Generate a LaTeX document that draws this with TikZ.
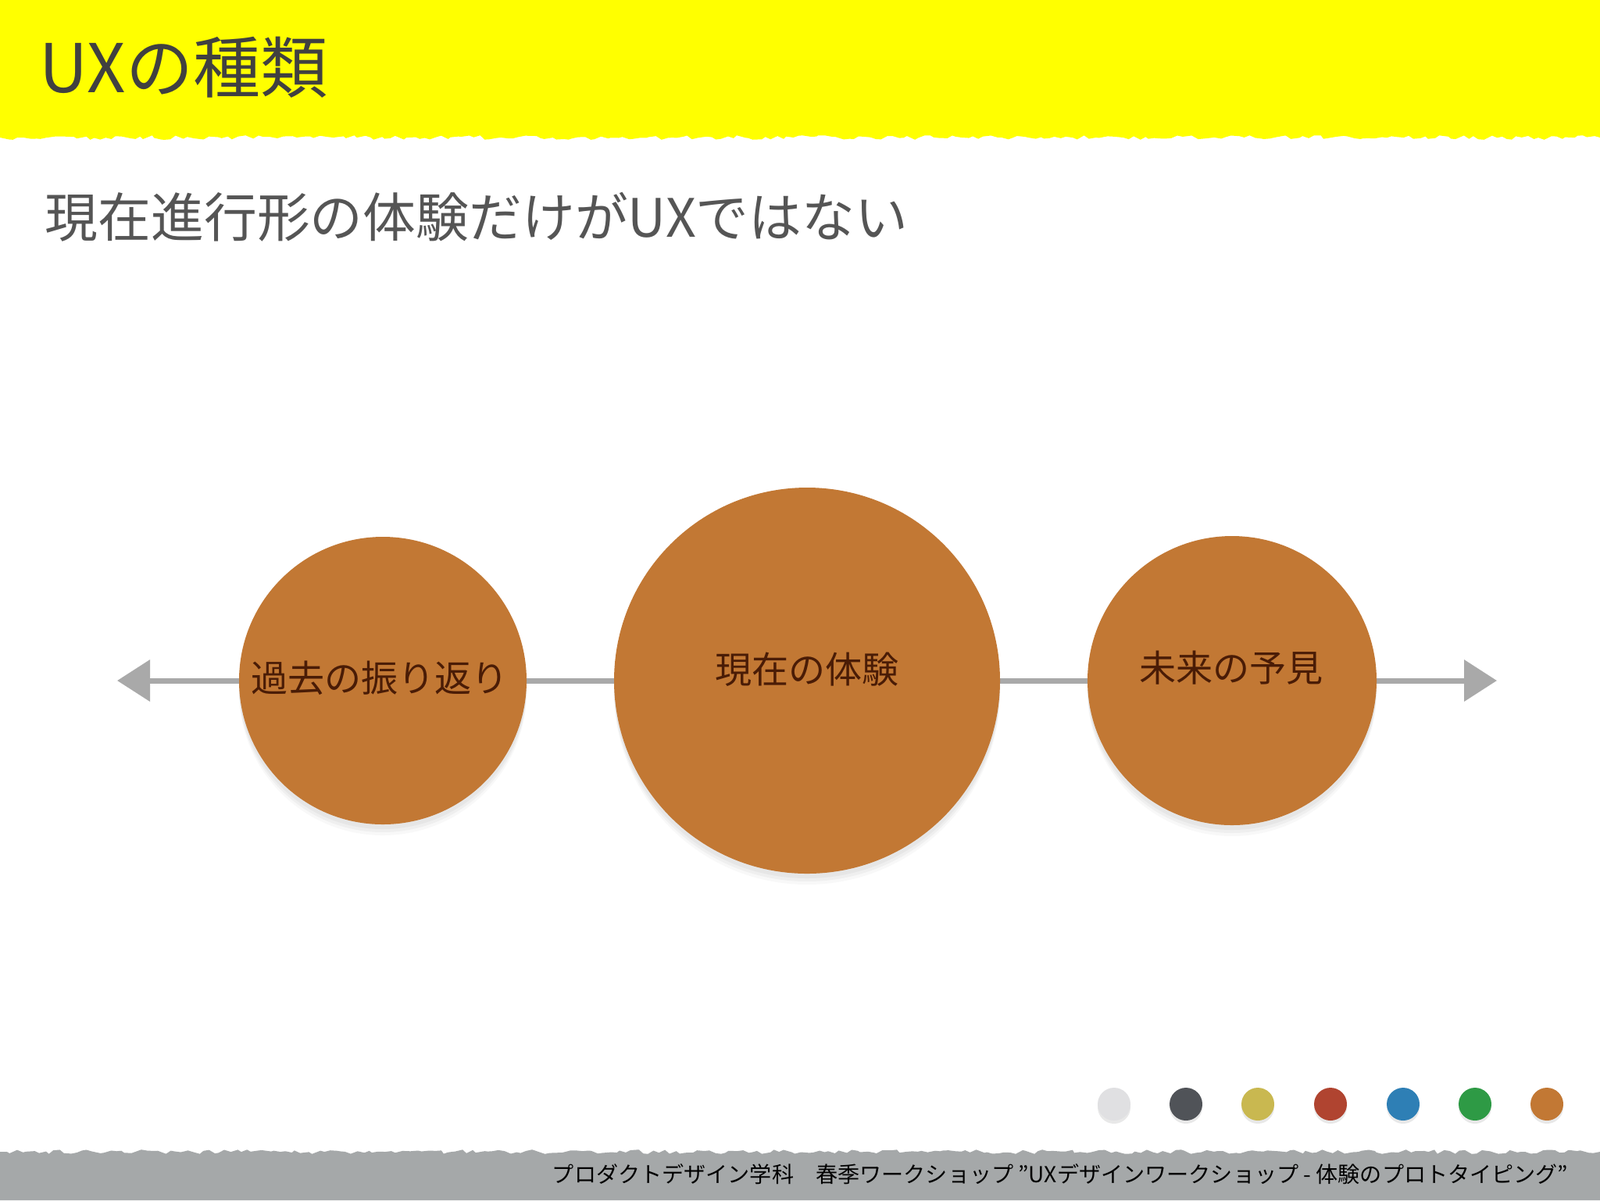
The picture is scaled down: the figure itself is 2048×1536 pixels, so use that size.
\documentclass[tikz,border=0pt]{standalone}
\usepackage{fontspec}
\newfontfamily\jp{Noto Sans CJK JP}
\usetikzlibrary{shadows,decorations.pathmorphing,arrows.meta}
\definecolor{bandyellow}{HTML}{FFFF00}
\definecolor{footgray}{HTML}{A5A8A9}
\definecolor{titlegray}{HTML}{404040}
\definecolor{subgray}{HTML}{555555}
\definecolor{circorange}{HTML}{C27834}
\definecolor{circtext}{HTML}{4A1C06}
\definecolor{arrowgray}{HTML}{A9A9A9}
\definecolor{dotA}{HTML}{E0E0E2}
\definecolor{dotB}{HTML}{505358}
\definecolor{dotC}{HTML}{C9B850}
\definecolor{dotD}{HTML}{B04430}
\definecolor{dotE}{HTML}{2E7FB5}
\definecolor{dotF}{HTML}{2E9A45}
\definecolor{dotG}{HTML}{C27834}
\pgfdeclarelayer{bg}
\pgfdeclarelayer{lines}
\pgfsetlayers{bg,lines,main}
\tikzset{
  softshadow/.style={
    drop shadow={shadow xshift=0pt, shadow yshift=-1.4mm, opacity=0.05, shadow scale=1.0},
    drop shadow={shadow xshift=0pt, shadow yshift=-1.0mm, opacity=0.07, shadow scale=1.0},
    drop shadow={shadow xshift=0pt, shadow yshift=-0.6mm, opacity=0.08, shadow scale=1.0}},
  circ/.style={circle, fill=circorange, inner sep=0pt, softshadow},
  circlabel/.style={font=\jp\fontsize{13.4pt}{16pt}\selectfont, text=circtext, inner sep=0pt},
  dotnode/.style={circle, inner sep=0pt, minimum size=4.2mm,
    drop shadow={shadow xshift=0pt, shadow yshift=-0.4mm, opacity=0.18}},
  axisline/.style={draw=arrowgray, line width=0.7mm},
  axisarrow/.style={axisline, -{Triangle[length=4.2mm,width=5.2mm]}},
  rough/.style={decoration={random steps, segment length=2pt, amplitude=0.8pt}},
}
\begin{document}
\begin{tikzpicture}[x=0.1mm,y=-0.1mm]
\useasboundingbox (0,0) rectangle (2048,1536);
\begin{pgfonlayer}{bg}
\fill[white] (0,0) rectangle (2048,1536);
\fill[bandyellow] (0,0) -- (2048,0) -- (2048,176)
  decorate[rough]{ -- (0,176)} -- cycle;
\fill[footgray] (0,1536) -- (0,1474)
  decorate[rough]{ -- (2048,1474)} -- (2048,1536) -- cycle;
\end{pgfonlayer}

% title and subtitle
\node[anchor=base west, inner sep=0pt, text=titlegray,
  font=\jp\fontsize{24.5pt}{28pt}\selectfont] (title) at (50,118) {UXの種類};
\node[anchor=base west, inner sep=0pt, text=subgray,
  font=\jp\fontsize{19.3pt}{23pt}\selectfont] (subtitle) at (57,303) {現在進行形の体験だけがUXではない};

% circles
\node[circ, minimum size=36.8mm] (past) at (490,871) {};
\node[circ, minimum size=49.4mm] (now) at (1033,871) {};
\node[circ, minimum size=37mm] (future) at (1577,871) {};
\node[circlabel] (pastlabel) at (486,868) {過去の振り返り};
\node[circlabel] (nowlabel) at (1033,857) {現在の体験};
\node[circlabel] (futurelabel) at (1576,855) {未来の予見};

% axis
\coordinate (lefttip) at (150,871);
\coordinate (righttip) at (1916,871);
\begin{pgfonlayer}{lines}
\draw[axisarrow] (past.center) -- (lefttip);
\draw[axisline] (past.center) -- (now.center);
\draw[axisline] (now.center) -- (future.center);
\draw[axisarrow] (future.center) -- (righttip);
\end{pgfonlayer}

% colour dots
\node[dotnode, fill=dotA] (d1) at (1426,1413) {};
\node[dotnode, fill=dotB] (d2) at (1518,1413) {};
\node[dotnode, fill=dotC] (d3) at (1610,1413) {};
\node[dotnode, fill=dotD] (d4) at (1703,1413) {};
\node[dotnode, fill=dotE] (d5) at (1796,1413) {};
\node[dotnode, fill=dotF] (d6) at (1888,1413) {};
\node[dotnode, fill=dotG] (d7) at (1980,1413) {};

% footer
\node[anchor=east, inner sep=0pt, text=black,
  font=\jp\fontsize{8pt}{9.5pt}\selectfont] (footer) at (2008,1503)
  {プロダクトデザイン学科　春季ワークショップ ”UXデザインワークショップ - 体験のプロトタイピング”};
\end{tikzpicture}
\end{document}
